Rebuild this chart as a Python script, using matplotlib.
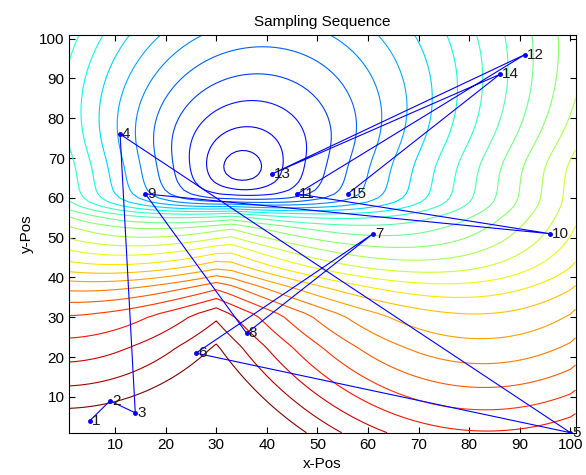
import numpy as np
import matplotlib.pyplot as plt

plt.rcParams['font.family'] = ['Liberation Sans', 'DejaVu Sans']

# sampling sequence, visiting order = label number
seq_x = [5, 9, 14, 11, 100, 26, 61, 36, 16, 96, 46, 91, 41, 86, 56]
seq_y = [4, 9, 6, 76, 1, 21, 51, 26, 61, 51, 61, 96, 66, 91, 61]

# background field: a valley around the center
center_x, center_y = 35.0, 67.5
tilt_up, tilt_left, ring_step = 0.46, 0.15, 3.7
# extra climb below the center: profile in depth and strength across x
drop_d = [0, 3, 6, 8, 10, 12, 15, 20, 25, 30, 37, 45, 100]
drop_p = [0, 0.02, 0.07, 0.16, 0.32, 0.48, 0.6, 0.7, 0.78, 0.88, 0.98, 1.0, 1.0]
near_x = [0, 33, 100]
near_h = [14.0, 22.0, 4.0]
ridge_x = [0, 30, 100]
ridge_h = [16.4, 23.0, 7.0]
n_levels = 26


def field(X, Y):
    dx = X - center_x
    dy = Y - center_y
    r = np.hypot(dx, dy)
    g = r / (r + 6.0)
    a = tilt_up * 0.5 * (1 + np.tanh(dy / 6.0))
    ring = (r - (a * dy + tilt_left * dx) * g) / ring_step
    dn = np.clip(-dy, 0, None)
    w = np.clip((dn - 12) / 23.0, 0, 1)
    w = w * w * (3 - 2 * w)
    h = np.interp(X, near_x, near_h) * (1 - w) + np.interp(X, ridge_x, ridge_h) * w
    drop = np.interp(dn, drop_d, drop_p) * h
    return np.sqrt(ring**2 + drop**2)


gx = np.arange(1, 102)
gy = np.arange(1, 102)
X, Y = np.meshgrid(gx, gy)
Z = field(X, Y)

fig = plt.figure(figsize=(5.86, 4.75), dpi=100)
ax = fig.add_axes([0.1186, 0.089, 0.8635, 0.838])

ax.contour(X, Y, Z, levels=np.arange(1, n_levels + 1), cmap='jet',
           vmin=-1, vmax=n_levels, linewidths=0.8)

ax.plot(seq_x, seq_y, '.-', color='blue', linewidth=0.8, markersize=5)
for i in range(len(seq_x)):
    ax.text(seq_x[i] + 0.4, seq_y[i], str(i + 1), fontsize=11,
            va='center', ha='left', color='#1a1a1a')

ax.set_xlim(1, 101)
ax.set_ylim(1, 101)
ax.set_xticks(range(10, 101, 10))
ax.set_yticks(range(10, 101, 10))
ax.tick_params(direction='in', top=True, right=True, length=4, labelsize=11)
ax.set_title('Sampling Sequence', fontsize=11)
ax.set_xlabel('x-Pos', fontsize=11)
ax.set_ylabel('y-Pos', fontsize=11)

fig.savefig('out.png', dpi=100)
